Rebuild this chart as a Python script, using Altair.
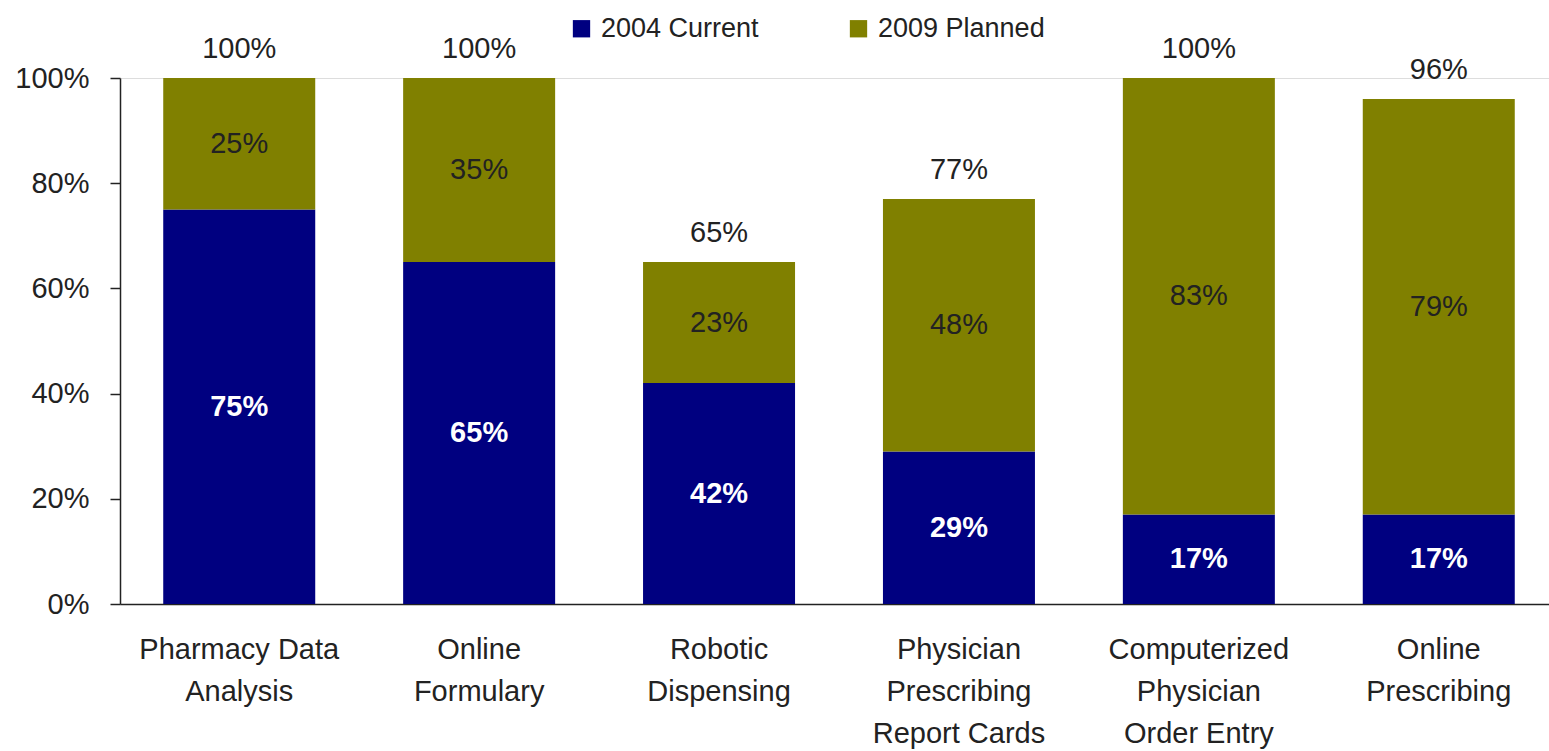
import altair as alt
import pandas as pd

categories = [
    "Pharmacy Data|Analysis",
    "Online|Formulary",
    "Robotic|Dispensing",
    "Physician|Prescribing|Report Cards",
    "Computerized|Physician|Order Entry",
    "Online|Prescribing",
]
series = ["2004 Current", "2009 Planned"]
current_2004 = [75, 65, 42, 29, 17, 17]
planned_2009 = [25, 35, 23, 48, 83, 79]
totals = [100, 100, 65, 77, 100, 96]
colors = ["#000080", "#808000"]

rows = []
for i, c in enumerate(categories):
    a = current_2004[i]
    b = planned_2009[i]
    rows.append({"cat": c, "series": series[0], "value": a, "start": 0, "end": a,
                 "mid": a / 2, "label": f"{a}%"})
    rows.append({"cat": c, "series": series[1], "value": b, "start": a, "end": a + b,
                 "mid": a + b / 2, "label": f"{b}%"})
df = pd.DataFrame(rows)
tot = pd.DataFrame({"cat": categories, "total": totals,
                    "label": [f"{t}%" for t in totals]})

FONT = "Liberation Sans"

x = alt.X("cat:N", sort=categories, title=None,
          scale=alt.Scale(range=[0, 1438], paddingInner=0.366, paddingOuter=0.18),
          axis=alt.Axis(labelAngle=0, ticks=False, domain=True, domainColor="#222",
                        domainWidth=1.5, labelFont=FONT, labelFontSize=29,
                        labelColor="#222", labelPadding=31, labelLineHeight=42,
                        labelBaseline="top", labelLimit=400,
                        labelExpr="split(datum.label, '|')"))
yscale = alt.Scale(domain=[0, 100], nice=False)

bars = alt.Chart(df).mark_bar(size=152).encode(
    x=x,
    y=alt.Y("start:Q", scale=yscale, title=None,
            axis=alt.Axis(values=[0, 20, 40, 60, 80, 100], labelExpr="datum.value + '%'",
                          grid=False, domainColor="#222", domainWidth=1.5,
                          tickColor="#222", tickSize=10, tickWidth=1.5,
                          labelFont=FONT, labelFontSize=29, labelColor="#222",
                          labelPadding=21)),
    y2="end:Q",
    color=alt.Color("series:N", scale=alt.Scale(domain=series, range=colors),
                    legend=alt.Legend(title=None, orient="none", direction="horizontal",
                                      legendX=448, legendY=-63, symbolType="square",
                                      symbolSize=300, symbolStrokeWidth=0,
                                      labelFont=FONT, labelFontSize=27,
                                      labelColor="#222", labelOffset=6,
                                      columnPadding=86, padding=0, labelLimit=400)),
)

blue_text = alt.Chart(df).transform_filter(
    alt.datum.series == series[0]
).mark_text(font=FONT, fontSize=29, fontWeight="bold", color="white", baseline="middle").encode(
    x=alt.X("cat:N", sort=categories), y=alt.Y("mid:Q", scale=yscale), text="label:N"
)

olive_text = alt.Chart(df).transform_filter(
    alt.datum.series == series[1]
).mark_text(font=FONT, fontSize=29, color="#222", baseline="middle").encode(
    x=alt.X("cat:N", sort=categories), y=alt.Y("mid:Q", scale=yscale), text="label:N"
)

total_text = alt.Chart(tot).mark_text(font=FONT, fontSize=29, color="#222",
                                      baseline="middle", dy=-29).encode(
    x=alt.X("cat:N", sort=categories), y=alt.Y("total:Q", scale=yscale), text="label:N"
)

chart = alt.layer(bars, blue_text, olive_text, total_text).properties(
    width=1429, height=526,
    autosize=alt.AutoSizeParams(type="none"),
    padding={"left": 120, "top": 78, "right": 0, "bottom": 147},
).configure_view(stroke=None).configure(background="white")

chart.save("out.html", embed_options={"renderer": "svg", "actions": False})
